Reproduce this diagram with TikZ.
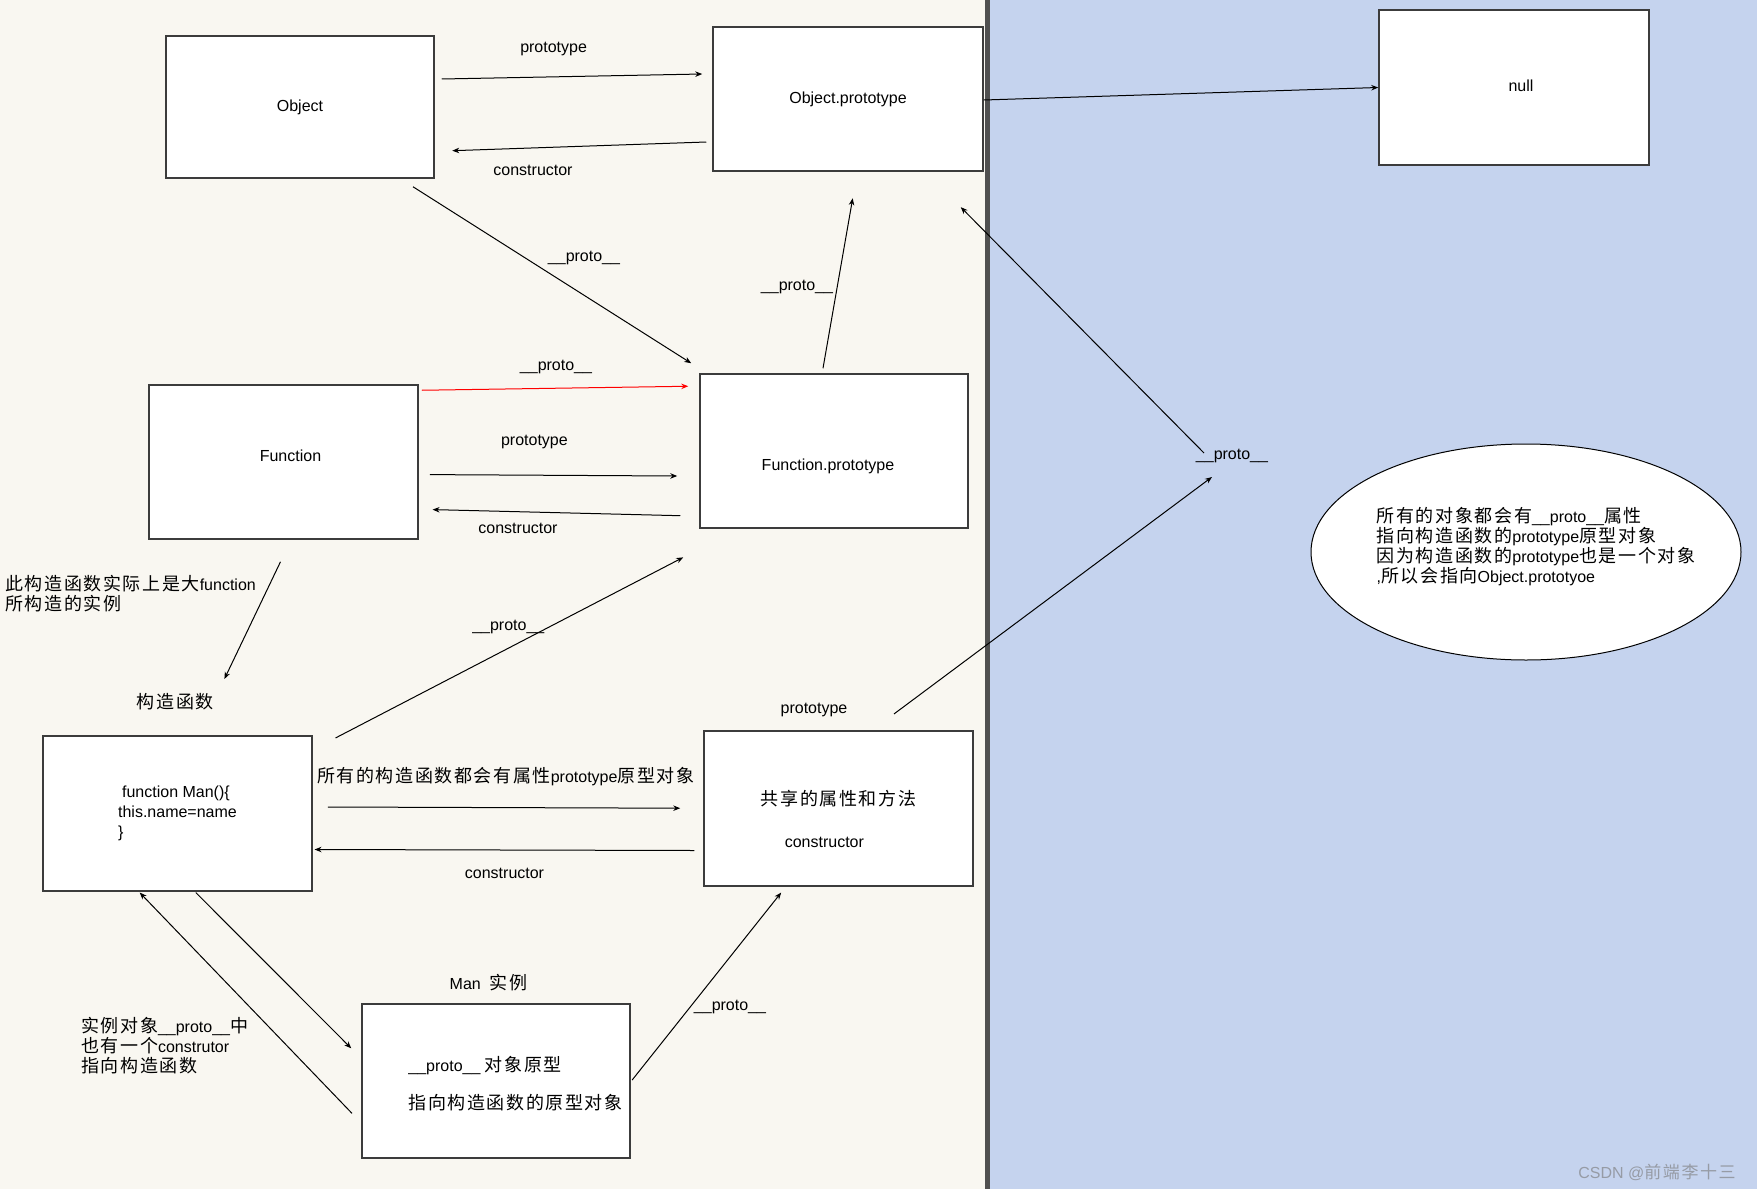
\documentclass[tikz,border=0pt]{standalone}
\usepackage{xcolor}
\usepackage{fontspec}
\setmainfont{Liberation Sans}
\newfontfamily\cjkfont[LetterSpace=9]{Noto Sans CJK SC}
\newcommand{\zh}[1]{{\cjkfont\fontsize{18pt}{20pt}\selectfont #1}}
\newcommand{\pr}{\_\_proto\_\_}
\usetikzlibrary{shapes.geometric,arrows.meta}

\definecolor{leftbg}{RGB}{249,247,241}
\definecolor{rightbg}{RGB}{197,211,238}
\definecolor{divgray}{RGB}{80,80,80}
\definecolor{boxgray}{RGB}{60,60,60}
\definecolor{markgray}{RGB}{150,155,165}

\tikzset{
  objbox/.style={draw=boxgray, line width=1.5pt, fill=white, rectangle},
  arr/.style={-{Stealth[length=7pt,width=5.5pt]}, line width=1pt},
  lbl/.style={inner sep=0pt},
}

\begin{document}
\begin{tikzpicture}[x=1pt, y=-1pt, font=\fontsize{16pt}{20pt}\selectfont]
\useasboundingbox (0,0) rectangle (1757,1189);
% background
\fill[leftbg] (0,0) rectangle (985,1189);
\fill[rightbg] (990,0) rectangle (1757,1189);
\fill[divgray] (985,0) rectangle (990,1189);

% boxes
\node[objbox, minimum width=268pt, minimum height=142pt] (obj) at (300,107) {Object};
\node[objbox, minimum width=270pt, minimum height=144pt] (objp) at (848,99) {Object.prototype};
\node[objbox, minimum width=270pt, minimum height=155pt,
      label={[xshift=7pt, yshift=2pt]center:null}] (null) at (1514,87.5) {};
\node[objbox, minimum width=269pt, minimum height=154pt,
      label={[xshift=7pt, yshift=6pt]center:Function}] (func) at (283.5,462) {};
\node[objbox, minimum width=268pt, minimum height=154pt,
      label={[yshift=-15pt, xshift=-6pt]center:Function.prototype}] (funcp) at (834,451) {};
\node[objbox, minimum width=269pt, minimum height=155pt, align=left] (man) at (177.5,813.5)
    {\hspace*{4pt}function Man()\{\\this.name=name\\\}};
\node[objbox, minimum width=269pt, minimum height=155pt,
      label={[align=left, yshift=-10pt]center:\zh{共享的属性和方法}\\[22pt]\hspace*{24pt}constructor}] (shared) at (838.5,808.5) {};
\node[objbox, minimum width=268pt, minimum height=154pt,
      label={[align=left, xshift=19.5pt, yshift=-3pt]center:\pr\ \zh{对象原型}\\[18pt]\zh{指向构造函数的原型对象}}] (inst) at (496,1081) {};
\node[draw=black, line width=1pt, fill=white, ellipse, minimum width=430pt, minimum height=216pt,
      label={[align=left, xshift=10pt, yshift=5pt]center:\zh{所有的对象都会有}\pr\zh{属性}\\
      \zh{指向构造函数的}prototype\zh{原型对象}\\
      \zh{因为构造函数的}prototype\zh{也是一个对象}\\
      ,\zh{所以会指向}Object.prototyoe}] (ell) at (1526,552) {};

% labels
\node[lbl] (lblObjProto) at (553.6,49) {prototype};
\node[lbl] (lblObjCtor) at (533,170.4) {constructor};
\node[lbl] (lblObjPr) at (584,258) {\pr};
\node[lbl] (lblFpPr) at (797,287) {\pr};
\node[lbl] (lblFuncPr) at (556,367) {\pr};
\node[lbl] (lblFuncProto) at (534.4,441.8) {prototype};
\node[lbl] (lblFuncCtor) at (518,528.6) {constructor};
\node[lbl] (lblManPr) at (508.3,627) {\pr};
\node[lbl] (lblManProto) at (505.7,776.8) {\zh{所有的构造函数都会有属性}prototype\zh{原型对象}};
\node[lbl] (lblManCtor) at (504.5,873.6) {constructor};
\node[lbl] (lblSharedProto) at (814,710) {prototype};
\node[lbl] (lblInstPr) at (730,1007) {\pr};
\node[lbl] (lblInst) at (488.5,983) {Man\ \ \zh{实例}};
\node[lbl] (ctorlbl) at (175.4,702) {\zh{构造函数}};
\node[lbl] (rproto) at (1232,456) {\pr};
\node[lbl, anchor=west, align=left] (noteFunc) at (5,594)
    {\zh{此构造函数实际上是大}function\\\zh{所构造的实例}};
\node[lbl, anchor=west, align=left] (noteInst) at (81,1046)
    {\zh{实例对象}\pr\zh{中}\\\zh{也有一个}construtor\\\zh{指向构造函数}};
\node[lbl, text=markgray] (mark) at (1657,1172) {CSDN @{\cjkfont\fontsize{17pt}{20pt}\selectfont 前端李十三}};

% connectors
\draw[arr] ([shift={(7,-28)}]obj.east) -- ([shift={(-10,-25)}]objp.west);
\draw[arr] ([shift={(-6,43)}]objp.west) -- ([shift={(17.5,43.7)}]obj.east);
\draw[arr] ([shift={(113,8)}]obj.south) -- ([shift={(-8,-10)}]funcp.north west);
\draw[arr] ([shift={(-11,-5)}]funcp.north) -- ([shift={(4.7,26.5)}]objp.south);
\draw[arr] ([shift={(0,1)}]objp.east) -- (null.west);
\draw[arr, red] ([shift={(3,6)}]func.north east) -- ([shift={(-11,13)}]funcp.north west);
\draw[arr] ([shift={(11,12.6)}]func.east) -- ([shift={(-22,25)}]funcp.west);
\draw[arr] ([shift={(-19,64.7)}]funcp.west) -- ([shift={(13.8,47.6)}]func.east);
\draw[arr] ([shift={(-3,22)}]func.south) -- ([shift={(49,-23)}]ctorlbl.center);
\draw[arr] ([shift={(22.8,2.7)}]man.north east) -- ([shift={(-16,28.6)}]funcp.south west);
\draw[arr] ([shift={(15,-6.5)}]man.east) -- ([shift={(-23,-0.3)}]shared.west);
\draw[arr] ([shift={(-9,42)}]shared.west) -- ([shift={(1.8,36)}]man.east);
\draw[arr] ([shift={(18.3,0.8)}]man.south) -- ([shift={(-10,-32.7)}]inst.west);
\draw[arr] ([shift={(-9.3,32.3)}]inst.west) -- ([shift={(-37.8,0.8)}]man.south);
\draw[arr] ([shift={(1.4,-1)}]inst.east) -- ([shift={(-57.3,5.8)}]shared.south);
\draw[arr] ([shift={(55.5,-16.3)}]shared.north) -- ([shift={(-20,21)}]rproto.center);
\draw[arr] ([shift={(-28,-3)}]rproto.center) -- ([shift={(-23,35.4)}]objp.south east);
\end{tikzpicture}
\end{document}
